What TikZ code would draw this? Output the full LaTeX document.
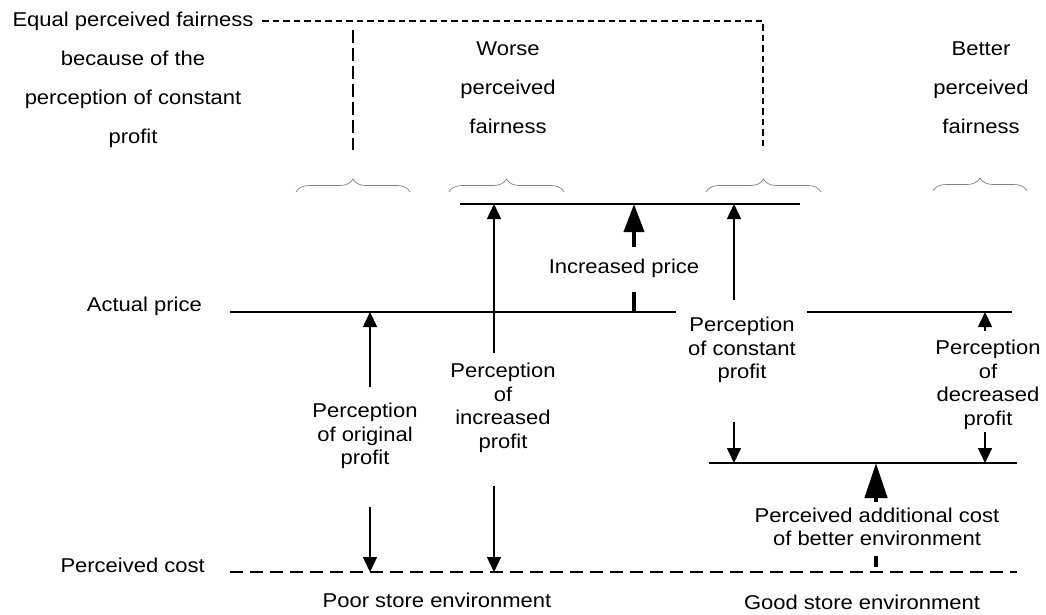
\documentclass[tikz,border=0pt]{standalone}
\usepackage{fontspec}
\setmainfont{Liberation Sans}[FakeStretch=1.1]
\usetikzlibrary{arrows.meta,decorations.pathreplacing}
\begin{document}
\begin{tikzpicture}[x=1pt,y=-1pt,
  txt/.style={align=center,inner sep=1pt,font=\fontsize{20}{23.5}\selectfont},
  toptxt/.style={align=center,inner sep=1pt,font=\fontsize{20}{39}\selectfont},
  level/.style={line width=1.8pt},
  costline/.style={line width=1.6pt,dash pattern=on 13pt off 7pt},
  fairdash/.style={line width=1.4pt,dash pattern=on 6.5pt off 4pt},
  longdash/.style={line width=1.4pt,dash pattern=on 13pt off 5pt},
  thinarrow/.style={line width=1.6pt,-{Triangle[width=14pt 0 1,length=15pt 0 1]}},
  pricearrow/.style={line width=4pt,-{Triangle[width=20pt 0 1,length=28pt 0 1]}},
  costarrow/.style={line width=4.5pt,-{Triangle[width=22pt 0 1,length=35pt 0 1]}},
  stub/.style={line width=4pt},
  brc/.style={decorate,decoration={brace,amplitude=13pt},draw=gray,line width=0.7pt}]
\useasboundingbox (0,0) rectangle (1046,614);

% price / cost levels
\coordinate (apL) at (230,312);  \coordinate (apGapL) at (676,312);
\coordinate (apGapR) at (807,312); \coordinate (apR) at (1012,312);
\coordinate (topL) at (460,204); \coordinate (topR) at (800,204);
\coordinate (lowL) at (709,463); \coordinate (lowR) at (1017,463);
\coordinate (pcL) at (230,572);  \coordinate (pcR) at (1017,572);

\draw[level] (apL) -- (apGapL);
\draw[level] (apGapR) -- (apR);
\draw[level] (topL) -- (topR);
\draw[level] (lowL) -- (lowR);
\draw[costline] (pcL) -- (pcR);

\node[txt,anchor=east] (aplab) at (203,306) {Actual price};
\node[txt,anchor=east] (pclab) at (206,565) {Perceived cost};

% fairness labels and braces
\node[toptxt] (equal) at (133,80) {Equal perceived fairness\\because of the\\perception of constant\\profit};
\node[toptxt] (worse) at (508,88) {Worse\\perceived\\fairness};
\node[toptxt] (better) at (981,88) {Better\\perceived\\fairness};

\coordinate (dA) at (262,21); \coordinate (dB) at (763,21); \coordinate (dC) at (763,150);
\coordinate (dD) at (353,30); \coordinate (dE) at (353,150);
\draw[fairdash] (dA) -- (dB) -- (dC);
\draw[longdash] (dD) -- (dE);

\coordinate (b1L) at (296,192); \coordinate (b1R) at (410,192);
\coordinate (b2L) at (449,192); \coordinate (b2R) at (564,192);
\coordinate (b3L) at (706,192); \coordinate (b3R) at (821,192);
\coordinate (b4L) at (933,191); \coordinate (b4R) at (1027,191);
\draw[brc] (b1L) -- (b1R);
\draw[brc] (b2L) -- (b2R);
\draw[brc] (b3L) -- (b3R);
\draw[brc] (b4L) -- (b4R);

% original profit (poor environment, original price)
\node[txt] (orig) at (365,436) {Perception\\of original\\profit};
\coordinate (o1) at (370,387); \coordinate (o1e) at (370,312);
\coordinate (o2) at (370,507); \coordinate (o2e) at (370,572);
\draw[thinarrow] (o1) -- (o1e);
\draw[thinarrow] (o2) -- (o2e);

% increased profit (poor environment, increased price)
\node[txt] (incr) at (503,408) {Perception\\of\\increased\\profit};
\coordinate (i1) at (494,353); \coordinate (i1e) at (494,204);
\coordinate (i2) at (494,486); \coordinate (i2e) at (494,572);
\draw[thinarrow] (i1) -- (i1e);
\draw[thinarrow] (i2) -- (i2e);

% increased price
\node[txt] (price) at (624,268) {Increased price};
\coordinate (p0) at (634,312); \coordinate (p1) at (634,292);
\coordinate (p2) at (634,247); \coordinate (p3) at (634,204);
\draw[stub] (p0) -- (p1);
\draw[pricearrow] (p2) -- (p3);

% constant profit (good environment, increased price)
\node[txt] (const) at (742,350) {Perception\\of constant\\profit};
\coordinate (c1) at (734,300); \coordinate (c1e) at (734,204);
\coordinate (c2) at (734,422); \coordinate (c2e) at (734,463);
\draw[thinarrow] (c1) -- (c1e);
\draw[thinarrow] (c2) -- (c2e);

% decreased profit (good environment, original price)
\node[txt] (decr) at (988,385) {Perception\\of\\decreased\\profit};
\coordinate (d1) at (985,331); \coordinate (d1e) at (985,312);
\coordinate (d2) at (985,432); \coordinate (d2e) at (985,463);
\draw[thinarrow] (d1) -- (d1e);
\draw[thinarrow] (d2) -- (d2e);

% additional cost of a better environment
\node[txt] (addcost) at (877,527) {Perceived additional cost\\of better environment};
\coordinate (a0) at (876,567); \coordinate (a1) at (876,556);
\coordinate (a2) at (876,502); \coordinate (a3) at (876,463);
\draw[stub] (a0) -- (a1);
\draw[costarrow] (a2) -- (a3);

% environments
\node[txt] (poor) at (437,600) {Poor store environment};
\node[txt] (good) at (862,602) {Good store environment};
\end{tikzpicture}
\end{document}
